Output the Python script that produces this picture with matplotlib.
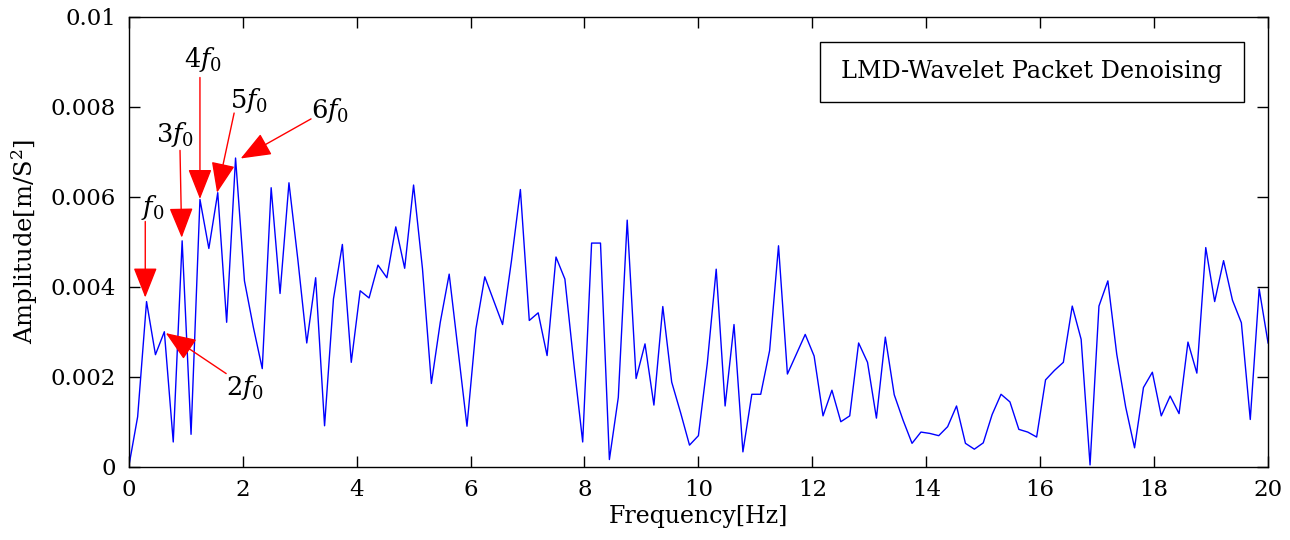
import matplotlib
matplotlib.use("Agg")
import matplotlib.pyplot as plt
from matplotlib.patches import Rectangle
import numpy as np

plt.rcParams['font.family'] = ['DejaVu Serif']
plt.rcParams['mathtext.fontset'] = 'dejavuserif'

# spectrum, 129 bins from 0 to 20 Hz (values in 1e-3 m/S^2)
freq_step = 20.0 / 128
amp_milli = [
    0.00, 1.11, 3.67, 2.49, 3.00, 0.55, 5.02, 0.72, 5.94, 4.85,
    6.09, 3.21, 6.86, 4.13, 3.10, 2.18, 6.20, 3.85, 6.31, 4.60,
    2.75, 4.20, 0.91, 3.73, 4.94, 2.32, 3.91, 3.75, 4.48, 4.20,
    5.33, 4.41, 6.26, 4.40, 1.85, 3.21, 4.28, 2.60, 0.90, 3.06,
    4.22, 3.69, 3.16, 4.58, 6.16, 3.25, 3.42, 2.47, 4.66, 4.17,
    2.30, 0.55, 4.97, 4.97, 0.16, 1.54, 5.48, 1.96, 2.73, 1.37,
    3.56, 1.88, 1.20, 0.48, 0.69, 2.30, 4.39, 1.35, 3.16, 0.33,
    1.61, 1.61, 2.58, 4.91, 2.06, 2.50, 2.94, 2.46, 1.13, 1.70,
    1.00, 1.13, 2.75, 2.32, 1.08, 2.88, 1.60, 1.03, 0.52, 0.77,
    0.74, 0.69, 0.89, 1.35, 0.52, 0.39, 0.53, 1.16, 1.61, 1.44,
    0.83, 0.77, 0.66, 1.93, 2.14, 2.32, 3.57, 2.83, 0.04, 3.57,
    4.13, 2.50, 1.33, 0.42, 1.76, 2.10, 1.13, 1.57, 1.18, 2.77,
    2.08, 4.87, 3.67, 4.58, 3.70, 3.20, 1.05, 3.95, 2.75,
]
freq = np.arange(len(amp_milli)) * freq_step
amp = np.array(amp_milli) * 1e-3

# harmonic annotations: label, label pos, arrow start, arrow tip (x Hz, y 1e-3)
harm_labels = ['$f_0$', '$3f_0$', '$4f_0$', '$5f_0$', '$6f_0$', '$2f_0$']
label_pos = [(0.42, 5.76), (0.81, 7.38), (1.30, 9.06), (2.11, 8.14), (3.53, 7.92), (2.05, 1.76)]
arrow_start = [(0.29, 5.45), (0.90, 7.03), (1.25, 8.65), (1.85, 7.86), (3.20, 7.73), (1.71, 2.07)]
arrow_tip = [(0.29, 3.76), (0.93, 5.09), (1.25, 5.95), (1.55, 6.09), (1.965, 6.85), (0.65, 2.97)]

fig = plt.figure(figsize=(12.9, 5.4), dpi=100)
ax = fig.add_axes([0.0998, 0.1357, 0.8832, 0.8333])

ax.plot(freq, amp, color='#0000ff', lw=1.0)

for lab, lp, st, tp in zip(harm_labels, label_pos, arrow_start, arrow_tip):
    ax.annotate('', xy=(tp[0], tp[1] * 1e-3), xytext=(st[0], st[1] * 1e-3),
                arrowprops=dict(arrowstyle='-|>,head_length=19,head_width=7.5',
                                mutation_scale=1, color='red', lw=1.0,
                                shrinkA=0, shrinkB=0))
    ax.text(lp[0], lp[1] * 1e-3, lab, fontsize=18.5, ha='center', va='center')

# legend-like box
ax.add_patch(Rectangle((0.6064, 0.8096), 0.3726, 0.1351, transform=ax.transAxes,
                       fc='white', ec='black', lw=1.0, zorder=4))
ax.text(0.7927, 0.878, 'LMD-Wavelet Packet Denoising', transform=ax.transAxes,
        fontsize=17.2, ha='center', va='center', zorder=5)

ax.set_xlim(0, 20)
ax.set_ylim(0, 0.01)
ax.set_xticks(np.arange(0, 21, 2))
ax.set_yticks([0, 0.002, 0.004, 0.006, 0.008, 0.01])
ax.set_yticklabels(['0', '0.002', '0.004', '0.006', '0.008', '0.01'])
ax.tick_params(direction='in', top=True, right=True, length=8, width=1,
               labelsize=16.5, pad=9)
for s in ax.spines.values():
    s.set_linewidth(1.0)

ax.set_xlabel('Frequency[Hz]', fontsize=17, labelpad=3)
ax.set_ylabel('Amplitude[m/S$^2$]', fontsize=17.5, labelpad=8)

fig.savefig('out.png', dpi=100)
